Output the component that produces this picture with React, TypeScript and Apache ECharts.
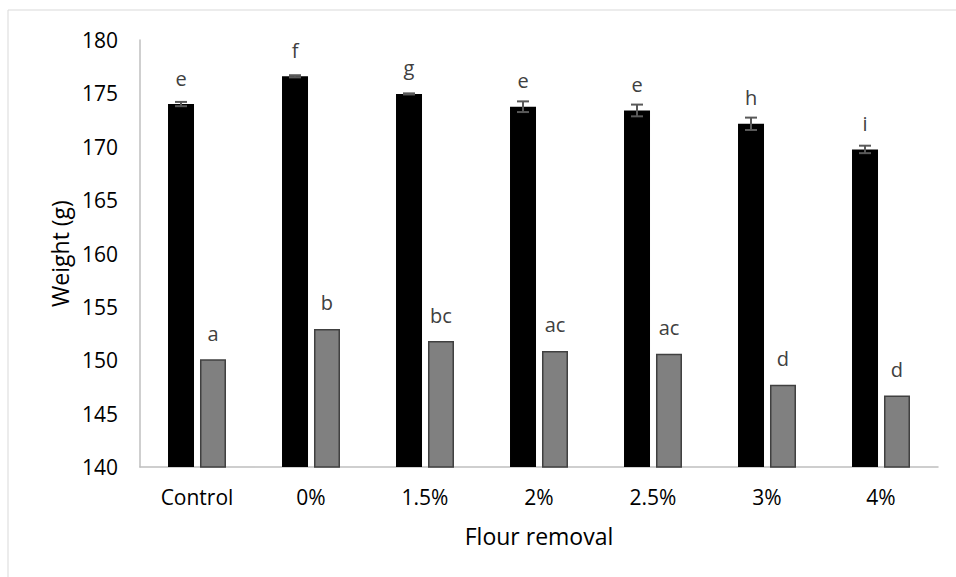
import React, { useEffect, useRef } from "react";
import * as echarts from "echarts";

const categories = ["Control", "0%", "1.5%", "2%", "2.5%", "3%", "4%"];
const blackValues = [174.0, 176.6, 174.95, 173.75, 173.4, 172.15, 169.75];
const blackErrors = [0.2, 0.1, 0.05, 0.5, 0.55, 0.58, 0.35];
const grayValues = [150.1, 152.93, 151.8, 150.87, 150.6, 147.7, 146.7];
const blackLetters = ["e", "f", "g", "e", "e", "h", "i"];
const grayLetters = ["a", "b", "bc", "ac", "ac", "d", "d"];
const yTicks = [140, 145, 150, 155, 160, 165, 170, 175, 180];

const FONT = "Open Sans";
const BAR_W = 26;
const BAR_GAP = 6;

export default function App() {
  const ref = useRef<HTMLDivElement>(null);
  useEffect(() => {
    if (!ref.current) return;
    const chart = echarts.init(ref.current, null, { renderer: "svg" });
    const errData = categories.map((c, i) => [i, blackValues[i], blackErrors[i]]);
    chart.setOption({
      animation: false,
      backgroundColor: "#ffffff",
      textStyle: { fontFamily: FONT },
      graphic: [
        {
          type: "rect",
          shape: { x: 8, y: 10, width: 1200, height: 1200 },
          style: { fill: "none", stroke: "#d9d9d9", lineWidth: 1 },
          silent: true,
        },
      ],
      grid: { left: 140, right: 18, top: 40, bottom: 110, containLabel: false },
      xAxis: {
        type: "category",
        data: categories,
        name: "Flour removal",
        nameLocation: "middle",
        nameGap: 57,
        nameTextStyle: { fontFamily: FONT, fontSize: 23, color: "#000000" },
        axisLine: { lineStyle: { color: "#bfbfbf", width: 1.5 } },
        axisTick: { show: false },
        axisLabel: { fontFamily: FONT, fontSize: 21, color: "#000000", margin: 19 },
      },
      yAxis: {
        type: "value",
        min: yTicks[0],
        max: yTicks[yTicks.length - 1],
        interval: 5,
        name: "Weight (g)",
        nameLocation: "middle",
        nameRotate: 90,
        nameGap: 67,
        nameTextStyle: { fontFamily: FONT, fontSize: 23, color: "#000000" },
        axisLine: { show: true, lineStyle: { color: "#bfbfbf", width: 1.5 } },
        axisTick: { show: false },
        splitLine: { show: false },
        axisLabel: { fontFamily: FONT, fontSize: 21, color: "#000000", margin: 22 },
      },
      series: [
        {
          type: "bar",
          data: blackValues,
          barWidth: BAR_W,
          barGap: `${Math.round((BAR_GAP / BAR_W) * 100)}%`,
          itemStyle: { color: "#000000" },
          label: {
            show: true,
            position: "top",
            distance: 16,
            fontFamily: FONT,
            fontSize: 20,
            color: "#404040",
            formatter: (p: any) => blackLetters[p.dataIndex],
          },
          z: 2,
        },
        {
          type: "bar",
          data: grayValues,
          barWidth: BAR_W,
          itemStyle: { color: "#808080", borderColor: "#404040", borderWidth: 1.5 },
          label: {
            show: true,
            position: "top",
            distance: 16,
            fontFamily: FONT,
            fontSize: 20,
            color: "#404040",
            formatter: (p: any) => grayLetters[p.dataIndex],
          },
          z: 2,
        },
        {
          type: "custom",
          data: errData,
          z: 5,
          renderItem: (params: any, api: any) => {
            const i = api.value(0);
            const v = api.value(1);
            const e = api.value(2);
            const off = -(BAR_W / 2 + BAR_GAP / 2);
            const top = api.coord([i, v + e]);
            const bot = api.coord([i, v - e]);
            const x = top[0] + off;
            const cap = 6;
            const style = { stroke: "#595959", lineWidth: 2 };
            return {
              type: "group",
              children: [
                { type: "line", shape: { x1: x, y1: top[1], x2: x, y2: bot[1] }, style },
                { type: "line", shape: { x1: x - cap, y1: top[1], x2: x + cap, y2: top[1] }, style },
                { type: "line", shape: { x1: x - cap, y1: bot[1], x2: x + cap, y2: bot[1] }, style },
              ],
            };
          },
        },
      ],
    });
    return () => chart.dispose();
  }, []);
  return (
    <div
      ref={ref}
      style={{ position: "absolute", left: 0, top: 0, width: 956, height: 577 }}
    />
  );
}
